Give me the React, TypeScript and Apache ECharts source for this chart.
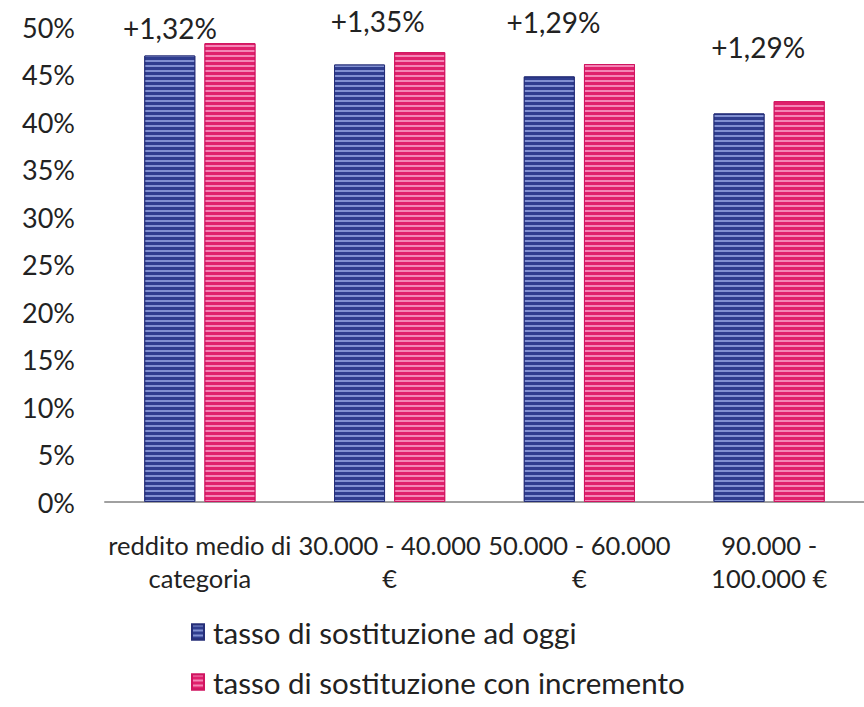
import React, { useEffect, useRef } from "react";
import * as echarts from "echarts";

const categories = [
  "reddito medio di\ncategoria",
  "30.000 - 40.000\n€",
  "50.000 - 60.000\n€",
  "90.000 -\n100.000 €",
];
const seriesNames = [
  "tasso di sostituzione ad oggi",
  "tasso di sostituzione con incremento",
];
const currentRate = [47.0, 46.05, 44.8, 40.9];
const increasedRate = [48.3, 47.35, 46.1, 42.2];
const deltaLabels = ["+1,32%", "+1,35%", "+1,29%", "+1,29%"];

const FONT = "Lato";

export default function App() {
  const ref = useRef<HTMLDivElement>(null);
  useEffect(() => {
    if (!ref.current) return;
    const chart = echarts.init(ref.current, undefined, { renderer: "svg" });
    const labelOffsets = [
      [-60, 4],
      [-42, -12],
      [-56, -23],
      [-41, -35],
    ];
    chart.setOption({
      animation: false,
      backgroundColor: "#ffffff",
      textStyle: { fontFamily: FONT },
      grid: { left: 105, right: -8, top: 27, bottom: 205, containLabel: false },
      legend: {
        orient: "vertical",
        left: 186,
        top: 612,
        itemGap: 20,
        itemWidth: 12,
        itemHeight: 15,
        icon: "rect",
        textStyle: { fontFamily: FONT, fontSize: 29.5, color: "#222", padding: [0, 0, 0, 4] },
        data: seriesNames,
      },
      xAxis: {
        type: "category",
        data: categories,
        axisLine: { show: true, lineStyle: { color: "#a0a0a0", width: 2 } },
        axisTick: { show: false },
        axisLabel: {
          interval: 0,
          fontFamily: FONT,
          fontSize: 25.5,
          color: "#222",
          lineHeight: 33,
          margin: 26,
        },
      },
      yAxis: {
        type: "value",
        min: 0,
        max: 50,
        interval: 5,
        axisLine: { show: false },
        axisTick: { show: false },
        splitLine: { show: false },
        axisLabel: {
          formatter: "{value}%",
          fontFamily: FONT,
          fontSize: 27,
          color: "#222",
          margin: 30,
        },
      },
      series: [
        {
          name: seriesNames[0],
          type: "bar",
          data: currentRate,
          barWidth: 51,
          barGap: "18%",
          itemStyle: {
            color: "#2f3d8f",
            borderColor: "#262f78",
            borderWidth: 1,
            decal: {
              symbol: "rect",
              symbolSize: 1,
              dashArrayX: [1, 0],
              dashArrayY: [2, 3],
              rotation: 0,
              color: "rgba(150,165,225,0.8)",
            },
          },
        },
        {
          name: seriesNames[1],
          type: "bar",
          data: increasedRate.map((v, i) => ({
            value: v,
            label: { offset: labelOffsets[i] },
          })),
          barWidth: 51,
          itemStyle: {
            color: "#e0206c",
            borderColor: "#d01560",
            borderWidth: 1,
            decal: {
              symbol: "rect",
              symbolSize: 1,
              dashArrayX: [1, 0],
              dashArrayY: [2, 3],
              rotation: 0,
              color: "rgba(248,150,195,0.85)",
            },
          },
          label: {
            show: true,
            position: "top",
            fontFamily: FONT,
            fontSize: 28,
            color: "#222",
            formatter: (p: any) => deltaLabels[p.dataIndex],
          },
        },
      ],
    });
    return () => chart.dispose();
  }, []);
  return (
    <div
      ref={ref}
      style={{ position: "fixed", left: 0, top: 0, width: 864, height: 707 }}
    />
  );
}
